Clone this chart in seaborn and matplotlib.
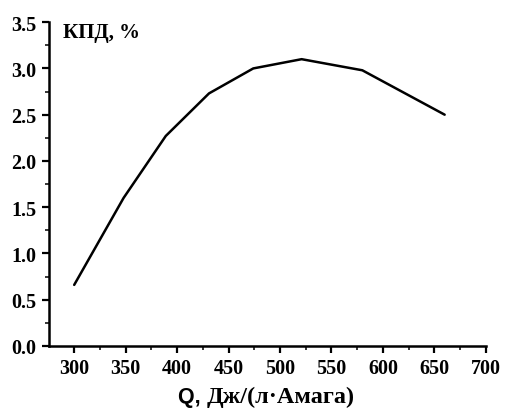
import matplotlib
matplotlib.use("Agg")
import matplotlib.pyplot as plt
from matplotlib.offsetbox import TextArea, HPacker, AnchoredOffsetbox
from matplotlib.ticker import MultipleLocator
import seaborn as sns
import pandas as pd

# Efficiency vs. specific energy input
q_values = [300, 348, 389, 431, 474, 521, 580, 660]
efficiency = [0.66, 1.60, 2.27, 2.73, 3.00, 3.10, 2.98, 2.50]
x_ticks = [300, 350, 400, 450, 500, 550, 600, 650, 700]
y_ticks = [0.0, 0.5, 1.0, 1.5, 2.0, 2.5, 3.0, 3.5]

sns.set_theme(style="ticks")
plt.rcParams["font.family"] = ["Liberation Serif", "DejaVu Serif"]
plt.rcParams["font.weight"] = "bold"

df = pd.DataFrame({"Q": q_values, "eff": efficiency})

fig = plt.figure(figsize=(5.05, 4.14), dpi=100)
ax = fig.add_axes([0.097, 0.162, 0.865, 0.782])
sns.lineplot(data=df, x="Q", y="eff", ax=ax, color="black", linewidth=1.8,
             sort=False)

ax.set_xlim(275.5, 700)
ax.set_ylim(0, 3.5)
ax.set_xticks(x_ticks)
ax.set_yticks(y_ticks)
ax.set_xticklabels([str(v) for v in x_ticks], fontsize=14.5, fontweight="bold")
ax.set_yticklabels([f"{v:.1f}" for v in y_ticks], fontsize=14.5, fontweight="bold")
ax.xaxis.set_minor_locator(MultipleLocator(25))
ax.yaxis.set_minor_locator(MultipleLocator(0.25))
ax.tick_params(which="major", direction="out", length=5, width=1.6, pad=4,
               colors="black")
ax.tick_params(which="minor", direction="out", length=3, width=1.3)
for side in ("top", "right"):
    ax.spines[side].set_visible(False)
for side in ("left", "bottom"):
    ax.spines[side].set_linewidth(1.8)
    ax.spines[side].set_color("black")
ax.set_xlabel("")
ax.set_ylabel("")

ax.text(0.032, 1.0, "КПД, %", transform=ax.transAxes, ha="left", va="top",
        fontsize=15, fontweight="bold", color="black")

# x label: "Q," in sans, units in serif
part1 = TextArea("Q, ", textprops=dict(family="Liberation Sans", fontsize=15.5,
                                       fontweight="bold", color="black"))
part2 = TextArea("Дж/(л·Амага)", textprops=dict(family="Liberation Serif",
                                                fontsize=17.5, fontweight="bold",
                                                color="black"))
box = HPacker(children=[part1, part2], align="baseline", pad=0, sep=0)
anchored = AnchoredOffsetbox(loc="center", child=box, pad=0, frameon=False,
                             bbox_to_anchor=(0.528, 0.04),
                             bbox_transform=fig.transFigure, borderpad=0)
fig.add_artist(anchored)

fig.savefig("out.png", dpi=100, facecolor="white")
